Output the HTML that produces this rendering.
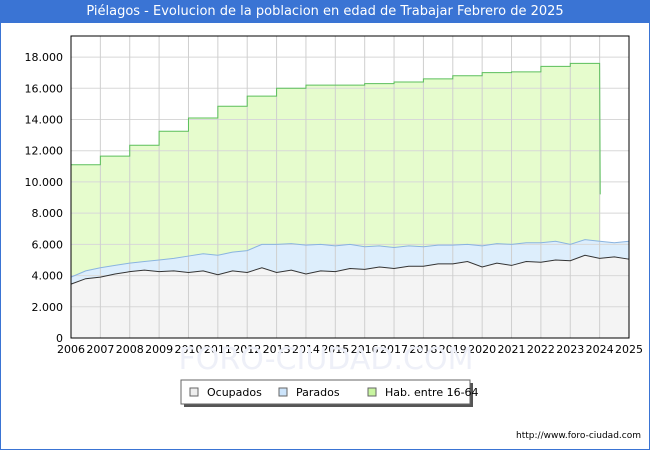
<!DOCTYPE html>
<html><head><meta charset="utf-8"><style>
body{margin:0;background:#fff;font-family:"DejaVu Sans","Liberation Sans",sans-serif;}
#wrap{position:relative;width:648px;height:448px;border:1px solid #3a74d4;overflow:hidden;}
#title{position:absolute;left:0;top:0;width:648px;height:22px;background:#3a74d4;color:#fff;font-size:13px;text-align:center;line-height:22px;}
</style></head><body>
<div id="wrap">
<div id="title">Piélagos - Evolucion de la poblacion en edad de Trabajar Febrero de 2025</div>
<svg id="chart" width="648" height="448" style="position:absolute;left:0;top:0"></svg>
</div>
<script>
const years=[2006,2007,2008,2009,2010,2011,2012,2013,2014,2015,2016,2017,2018,2019,2020,2021,2022,2023];
const habValues=[11100,11650,12350,13250,14100,14850,15500,16000,16200,16200,16300,16400,16600,16800,17000,17050,17400,17600];
const habEndValue=9200;
const periods=[2006,2006.5,2007,2007.5,2008,2008.5,2009,2009.5,2010,2010.5,2011,2011.5,2012,2012.5,2013,2013.5,2014,2014.5,2015,2015.5,2016,2016.5,2017,2017.5,2018,2018.5,2019,2019.5,2020,2020.5,2021,2021.5,2022,2022.5,2023,2023.5,2024,2024.5,2025];
const ocupados=[3450,3800,3900,4100,4250,4350,4250,4300,4200,4300,4050,4300,4200,4500,4200,4350,4100,4300,4250,4450,4400,4550,4450,4600,4600,4750,4750,4900,4550,4800,4650,4900,4850,5000,4950,5300,5100,5200,5050];
const parados=[450,500,600,550,550,550,750,800,1050,1100,1250,1200,1400,1500,1800,1700,1850,1700,1650,1550,1450,1350,1350,1300,1250,1200,1200,1100,1350,1250,1350,1200,1250,1200,1050,1000,1100,900,1150];
const yTicks=[0,2000,4000,6000,8000,10000,12000,14000,16000,18000];
const yLabels=["0","2.000","4.000","6.000","8.000","10.000","12.000","14.000","16.000","18.000"];
const xTicks=[2006,2007,2008,2009,2010,2011,2012,2013,2014,2015,2016,2017,2018,2019,2020,2021,2022,2023,2024,2025];

const L=70,R=628,T=35,B=337;
const x=v=>L+(v-2006)/19*(R-L);
const y=v=>B-v/19350*(B-T);
const svg=document.getElementById('chart');
const NS='http://www.w3.org/2000/svg';
function mk(tag,attrs,parent){const e=document.createElementNS(NS,tag);for(const k in attrs)e.setAttribute(k,attrs[k]);(parent||svg).appendChild(e);return e;}

let bg=mk('rect',{x:L,y:T,width:R-L,height:B-T,fill:'#fff'});



let hp=`M${x(2006)},${y(0)}`;
years.forEach((yr,i)=>{hp+=` L${x(yr)},${y(habValues[i])} L${x(yr+1)},${y(habValues[i])}`;});
let hl=hp.replace(/^M[^L]*L/,'M');
hl+=` L${x(2024.02)},${y(habEndValue)}`;
hp+=` L${x(2024.02)},${y(habEndValue)} L${x(2024.02)},${y(0)} Z`;
let ha=mk('path',{d:hp,fill:'#e6fccd',stroke:'none'});



let topPts=periods.map((p,i)=>[x(p),y(ocupados[i]+parados[i])]);
let occPts=periods.map((p,i)=>[x(p),y(ocupados[i])]);
let pp='M'+topPts.map(q=>q.join(',')).join(' L')+' L'+occPts.slice().reverse().map(q=>q.join(',')).join(' L')+' Z';
let pa=mk('path',{d:pp,fill:'#ddeefc',stroke:'none'});


let op='M'+occPts.map(q=>q.join(',')).join(' L')+` L${x(2025)},${y(0)} L${x(2006)},${y(0)} Z`;
let oa=mk('path',{d:op,fill:'#f4f4f4',stroke:'none'});



yTicks.forEach((v,i)=>{
 if(v>0){let g=mk('line',{x1:L,x2:R,y1:y(v),y2:y(v),stroke:'#d8d8d8','stroke-width':1});
 
 }
 let t=mk('text',{x:L-8,y:y(v)+4,'text-anchor':'end','font-size':11,fill:'#000'});
 t.textContent=yLabels[i];
 
 
});
xTicks.forEach(v=>{
 let g=mk('line',{x1:x(v),x2:x(v),y1:T,y2:B,stroke:'#cfcfcf','stroke-width':1});
 
 
 let t=mk('text',{x:x(v),y:B+15,'text-anchor':'middle','font-size':11,fill:'#000'});
 t.textContent=v;
 
 
});

let l1=mk('path',{d:hl,fill:'none',stroke:'#5bbf5b','stroke-width':1});


let l2=mk('path',{d:'M'+topPts.map(q=>q.join(',')).join(' L'),fill:'none',stroke:'#8ab4e0','stroke-width':1});


let l3=mk('path',{d:'M'+occPts.map(q=>q.join(',')).join(' L'),fill:'none',stroke:'#333','stroke-width':1});



let fr=mk('rect',{x:L,y:T,width:R-L,height:B-T,fill:'none',stroke:'#000','stroke-width':1});



let wm=mk('text',{x:325,y:368,'text-anchor':'middle','font-size':30,fill:'#eef0f8'});
wm.textContent='FORO-CIUDAD.COM';



let lg=mk('g',{});


mk('rect',{x:183,y:382,width:289,height:24,fill:'#555'},lg);
mk('rect',{x:180,y:379,width:289,height:24,fill:'#fff',stroke:'#666'},lg);
[['Ocupados','#eeeeee',189],['Parados','#cce4fb',278],['Hab. entre 16-64','#c8f5a0',367]].forEach(([n,c,lx])=>{
 let s=mk('rect',{x:lx,y:387,width:8,height:8,fill:c,stroke:'#666'},lg);
 
 
 let t=mk('text',{x:lx+17,y:395,'font-size':11,fill:'#000'},lg);
 t.textContent=n;
 
 
});
let u=mk('text',{x:640,y:437,'text-anchor':'end','font-size':9,fill:'#000'});
u.textContent='http://www.foro-ciudad.com';


</script>
</body></html>
